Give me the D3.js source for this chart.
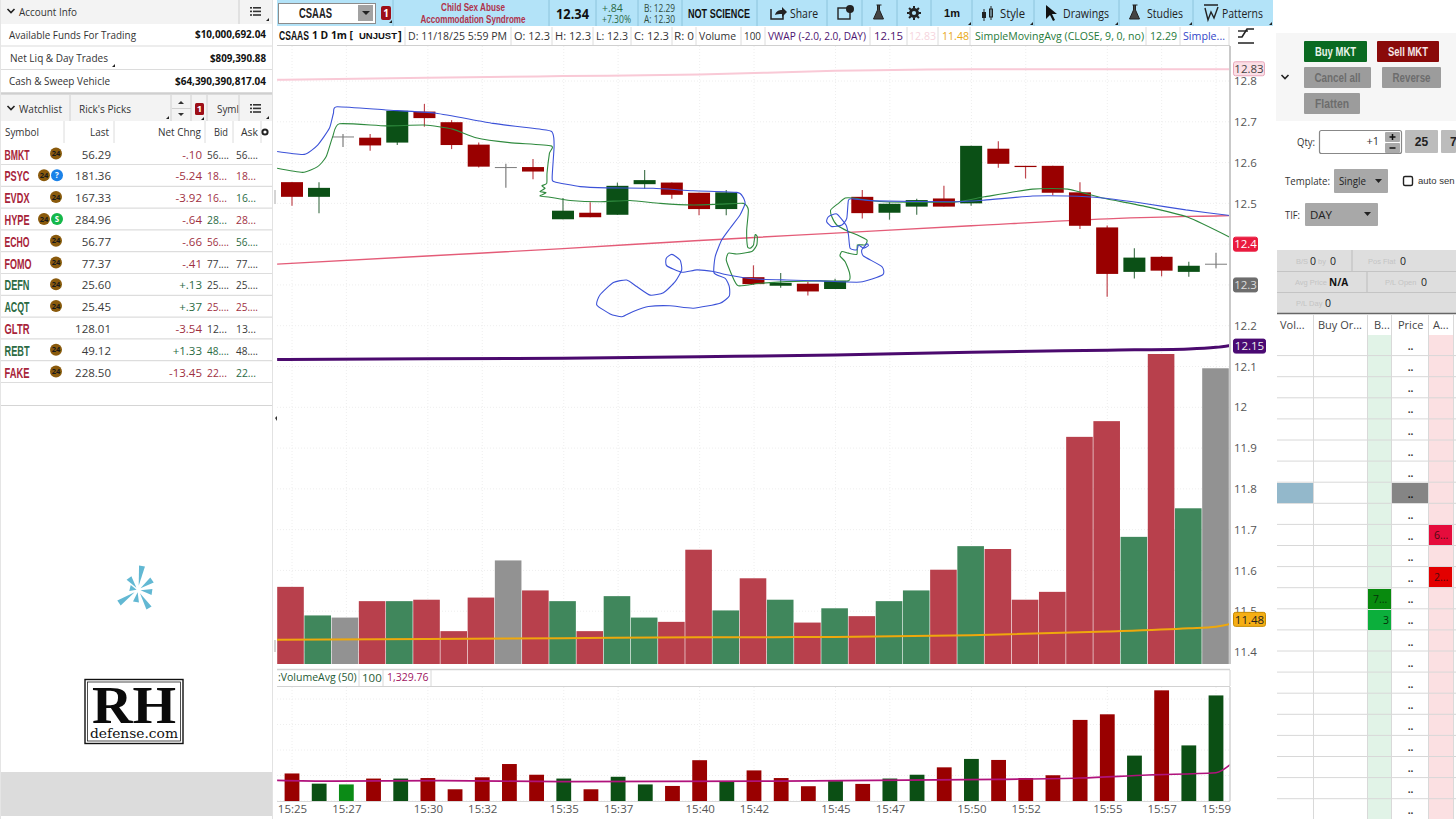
<!DOCTYPE html>
<html><head><meta charset="utf-8">
<script src="https://cdn.jsdelivr.net/npm/d3@7"></script>
<style>html,body{margin:0;padding:0;background:#fff;overflow:hidden}svg{display:block}text{font-family:"Open Sans",sans-serif}</style>
</head><body><svg id="c" width="1456" height="819"></svg>
<script>
// ---------- chart data ----------
const times=["15:25","15:26","15:27","15:28","15:29","15:30","15:31","15:32","15:33","15:34","15:35","15:36","15:37","15:38","15:39","15:40","15:41","15:42","15:43","15:44","15:45","15:46","15:47","15:48","15:49","15:50","15:51","15:52","15:53","15:54","15:55","15:56","15:57","15:58","15:59"];
const timeTicks=["15:25","15:27","15:30","15:32","15:35","15:37","15:40","15:42","15:45","15:47","15:50","15:52","15:55","15:57","15:59"];
const opens =[12.552,12.516,12.664,12.661,12.649,12.725,12.699,12.644,12.589,12.589,12.461,12.477,12.472,12.547,12.551,12.526,12.486,12.319,12.298,12.303,12.290,12.516,12.477,12.492,12.512,12.500,12.634,12.592,12.592,12.527,12.441,12.332,12.369,12.332,12.352];
const closes=[12.516,12.538,12.664,12.642,12.727,12.709,12.643,12.590,12.589,12.578,12.482,12.466,12.543,12.557,12.521,12.486,12.527,12.302,12.305,12.284,12.310,12.476,12.499,12.508,12.492,12.641,12.597,12.589,12.526,12.445,12.327,12.367,12.335,12.347,12.352];
const highs =[12.552,12.552,12.670,12.670,12.727,12.744,12.704,12.649,12.597,12.609,12.513,12.503,12.551,12.582,12.551,12.526,12.533,12.348,12.329,12.308,12.315,12.533,12.503,12.511,12.543,12.641,12.652,12.592,12.592,12.552,12.446,12.390,12.371,12.357,12.379];
const lows  =[12.494,12.476,12.638,12.629,12.643,12.688,12.633,12.588,12.538,12.559,12.461,12.466,12.472,12.536,12.511,12.471,12.471,12.300,12.293,12.274,12.290,12.463,12.460,12.472,12.492,12.494,12.587,12.561,12.520,12.437,12.271,12.316,12.321,12.320,12.341];
const volumes=[108,68,65,88,88,90,46,93,145,103,88,46,95,65,59,160,75,120,90,58,78,67,88,103,132,165,161,90,101,318,340,178,434,218,414];
const overlayDir=["d","u","n","d","u","d","d","d","n","d","u","d","u","u","d","d","u","d","u","d","u","d","u","u","d","u","d","d","d","d","d","u","d","u","n"];
const lowerDir  =["d","u","b","d","u","d","d","d","d","d","u","d","u","u","d","d","u","d","d","d","u","d","u","u","d","u","d","d","d","d","d","u","d","u","u"];
const priceTicks=[12.8,12.7,12.6,12.5,12.4,12.3,12.2,12.1,12,11.9,11.8,11.7,11.6,11.5,11.4];
const priceLabels=[12.8,12.7,12.6,12.5,12.2,12.1,12,11.9,11.8,11.7,11.6,11.5,11.4];
const volumeTicks=[400,300,200,100,0];
const bandIdx=[-0.51,5,10,15,20,25,30,33,34,34.54];
const upperBand=[12.803,12.808,12.812,12.816,12.825,12.829,12.829,12.829,12.829,12.829];
const lowerBand=[12.351,12.371,12.389,12.409,12.427,12.445,12.462,12.468,12.469,12.470];
const vwap=[12.117,12.119,12.120,12.124,12.128,12.135,12.140,12.143,12.147,12.152];
const orangeLine=[11.430,11.432,11.434,11.436,11.437,11.441,11.450,11.458,11.462,11.469];
const volAvgIdx=[-0.51,1.5,5.5,10,18,26,29,31.5,34,34.54];
const volAvg=[81,78,80,76,78,85,90,102,111,144];
const blueT=[-.51,.49,.98,1.41,1.56,1.69,3.49,5.33,7.42,9.38,9.62,9.67,9.60,9.68,10.63,11.61,13.31,14.78,16.39,16.61,16.69,16.51,16.14,15.83,15.59,15.55,15.96,16.11,16.11,15.77,14.79,13.93,13.14,12.58,12.16,11.73,11.24,11.36,11.85,12.34,12.71,13.20,13.69,14.12,14.36,14.30,14.00,13.79,13.81,14.36,14.92,15.53,16.02,16.99,18.22,19.45,20.92,21.75,21.72,21.04,20.98,21.17,21.22,21.04,20.86,20.80,20.55,20.49,20.40,20.06,19.75,19.69,19.88,20.25,20.43,20.49,20.67,21.47,24.36,25.49,27.26,28.55,29.83,31.43,32.89,34.54];
const blueP=[12.627,12.620,12.643,12.684,12.721,12.737,12.729,12.721,12.696,12.680,12.672,12.639,12.565,12.553,12.541,12.538,12.537,12.531,12.527,12.516,12.500,12.472,12.439,12.410,12.369,12.329,12.316,12.296,12.273,12.255,12.243,12.249,12.247,12.235,12.222,12.229,12.251,12.276,12.306,12.312,12.296,12.275,12.281,12.308,12.337,12.361,12.375,12.365,12.347,12.331,12.337,12.333,12.325,12.315,12.312,12.310,12.307,12.325,12.345,12.371,12.386,12.401,12.396,12.390,12.398,12.386,12.390,12.423,12.447,12.474,12.467,12.455,12.443,12.447,12.464,12.508,12.511,12.506,12.504,12.508,12.518,12.518,12.513,12.499,12.484,12.470];
const greenT=[-.51,.43,.98,1.29,1.53,1.78,3.49,4.90,5.94,6.80,8.03,9.56,9.50,9.41,9.40,9.22,9.34,9.15,9.38,9.15,9.52,10.26,11.36,12.46,13.57,14.79,15.77,16.63,16.81,16.75,16.78,16.88,17.00,17.06,17.14,17.12,16.94,16.39,16.08,16.0,16.20,16.44,17.24,18.22,19.45,20.49,20.53,20.37,20.18,20.25,20.49,20.80,20.82,21.10,21.17,20.80,20.49,20.06,19.88,19.84,20.12,20.37,20.67,21.79,24.36,25.49,27.26,28.55,29.83,31.43,32.97,34.54];
const greenP=[12.586,12.576,12.590,12.614,12.663,12.695,12.690,12.692,12.682,12.661,12.649,12.641,12.623,12.574,12.549,12.543,12.537,12.529,12.526,12.518,12.515,12.507,12.504,12.507,12.500,12.496,12.498,12.500,12.484,12.435,12.394,12.390,12.398,12.423,12.418,12.398,12.382,12.376,12.378,12.361,12.325,12.298,12.304,12.308,12.310,12.310,12.329,12.357,12.371,12.382,12.378,12.375,12.398,12.398,12.410,12.423,12.431,12.447,12.467,12.484,12.500,12.513,12.513,12.504,12.503,12.516,12.535,12.535,12.513,12.492,12.466,12.416];
// ---------- watchlist data ----------
const wlSymbols=["BMKT","PSYC","EVDX","HYPE","ECHO","FOMO","DEFN","ACQT","GLTR","REBT","FAKE"];
const wlLast=["56.29","181.36","167.33","284.96","56.77","77.37","25.60","25.45","128.01","49.12","228.50"];
const wlChange=["-.10","-5.24","-3.92","-.64","-.66","-.41","+.13","+.37","-3.54","+1.33","-13.45"];
const wlBid=["56....","18...","16...","28...","56....","77....","25....","25....","12...","48....","22..."];
const wlAsk=["56....","18...","16...","28...","56....","77....","25....","25....","13...","48....","22..."];
const wlBidTone=["k","r","r","g","r","k","k","r","k","g","r"];
const wlAskTone=["k","r","g","r","g","k","k","r","k","k","g"];
const wlBadge=["24","24+i","24","24+s","24","24","24","24","","24","24"];
const accountLabels=["Available Funds For Trading","Net Liq & Day Trades","Cash & Sweep Vehicle"];
const accountValues=["$10,000,692.04","$809,390.88","$64,390,390,817.04"];

// ---------- helpers ----------
const svg=d3.select("#c");
const NARROW='"Liberation Sans",sans-serif';
function T(g,x,y,s,o={}){
  const e=g.append("text").attr("x",x).attr("y",y).attr("dy",".36em").text(s)
   .attr("font-size",o.size||11).attr("fill",o.fill||"#333").attr("text-anchor",o.anchor||"start");
  if(o.weight)e.attr("font-weight",o.weight);
  if(o.font)e.style("font-family",o.font);
  if(o.len)e.attr("textLength",o.len).attr("lengthAdjust","spacingAndGlyphs");
  return e;
}
function R(g,x,y,w,h,f,o={}){
  const e=g.append("rect").attr("x",x).attr("y",y).attr("width",w).attr("height",h).attr("fill",f);
  if(o.stroke)e.attr("stroke",o.stroke).attr("stroke-width",o.sw||1);
  if(o.r)e.attr("rx",o.r);
  return e;
}
function L(g,x1,y1,x2,y2,c,w){return g.append("line").attr("x1",x1).attr("y1",y1).attr("x2",x2).attr("y2",y2).attr("stroke",c).attr("stroke-width",w||1);}
function P(g,d,f,s,w){const e=g.append("path").attr("d",d).attr("fill",f||"none");if(s)e.attr("stroke",s).attr("stroke-width",w||1);return e;}
function listIcon(g,x,y){for(let i=0;i<3;i++){R(g,x-5,y-4+i*3.6,2,1.6,"#333");R(g,x-2,y-4+i*3.6,8,1.6,"#333");}}
function chevron(g,x,y){P(g,`M${x-3.5} ${y-2}L${x} ${y+1.5}L${x+3.5} ${y-2}`,"none","#222",1.6);}
function corner(g,x,y){P(g,`M${x} ${y}L${x} ${y-3}L${x-3} ${y}Z`,"#222");}

// ---------- scales ----------
const xIdx=d3.scaleLinear().domain([0,34]).range([291,1216]);
const xCandle=d3.scaleLinear().domain([0,1,2,9,10,34]).range([292,319,343,533,563,1216]);
const xVol=d3.scalePoint().domain(times).range([290.5,1215.5]);
const xLow=d3.scalePoint().domain(times).range([292,1216]);
const yPrice=d3.scaleLinear().domain([12.8,11.4]).range([81,652]);
const yOver=d3.scaleLinear().domain([0,434]).range([664,354]);
const yLow=d3.scaleLinear().domain([0,400]).range([801,699]);

const defs=svg.append("defs");
defs.append("clipPath").attr("id","cm").append("rect").attr("x",277).attr("y",46).attr("width",953).attr("height",619);
defs.append("clipPath").attr("id","cl").append("rect").attr("x",277).attr("y",687).attr("width",953).attr("height",115);
defs.append("clipPath").attr("id","ca").append("rect").attr("x",1230).attr("y",687).attr("width",40).attr("height",115);

// ---------- main chart ----------
const main=svg.append("g").attr("clip-path","url(#cm)");
const gridC="#eeeeee";
priceTicks.forEach(p=>main.append("line").attr("x1",277).attr("x2",1230).attr("y1",yPrice(p)).attr("y2",yPrice(p)).attr("stroke",gridC).attr("stroke-dasharray","1 2"));
timeTicks.forEach(t=>main.append("line").attr("x1",xLow(t)).attr("x2",xLow(t)).attr("y1",46).attr("y2",664).attr("stroke",gridC).attr("stroke-dasharray","1 2"));
const overCol={d:"#b8404c",u:"#40875c",n:"#929292"};
main.selectAll("rect.ov").data(times).join("rect").attr("class","ov")
 .attr("x",d=>xVol(d)-13.3).attr("width",26.6)
 .attr("y",(d,i)=>yOver(volumes[i])).attr("height",(d,i)=>664-yOver(volumes[i]))
 .attr("fill",(d,i)=>overCol[overlayDir[i]]);
const bandLine=arr=>d3.line().x((d,i)=>xIdx(bandIdx[i])).y(d=>yPrice(d)).curve(d3.curveMonotoneX)(arr);
P(main,bandLine(orangeLine),"none","#efa80c",2);
P(main,bandLine(vwap),"none","#4b0a6e",3);
P(main,bandLine(upperBand),"none","#f9c9d6",2);
P(main,bandLine(lowerBand),"none","#e45c78",1.4);
const candleCol=i=>closes[i]>opens[i]?"#0b5016":closes[i]<opens[i]?"#990000":"#7d7d7d";
const cg=main.append("g");
cg.selectAll("line.w").data(times).join("line").attr("class","w")
 .attr("x1",(d,i)=>xCandle(i)).attr("x2",(d,i)=>xCandle(i))
 .attr("y1",(d,i)=>yPrice(highs[i])).attr("y2",(d,i)=>yPrice(lows[i]))
 .attr("stroke",(d,i)=>closes[i]===opens[i]?"#7d7d7d":(closes[i]>opens[i]?"#4c7a55":"#c04850")).attr("stroke-width",1.2);
cg.selectAll("rect.b").data(times).join("rect").attr("class","b")
 .attr("x",(d,i)=>xCandle(i)-11).attr("width",22)
 .attr("y",(d,i)=>yPrice(Math.max(opens[i],closes[i])))
 .attr("height",(d,i)=>Math.max(1,yPrice(Math.min(opens[i],closes[i]))-yPrice(Math.max(opens[i],closes[i]))))
 .attr("fill",(d,i)=>candleCol(i));
const traceLine=(T_,P_)=>d3.line().x((d,i)=>xIdx(T_[i])).y((d,i)=>yPrice(P_[i])).curve(d3.curveCardinal.tension(0.45))(T_);
P(main,traceLine(greenT,greenP),"none","#2f8a3e",1.1);
P(main,traceLine(blueT,blueP),"none","#3c52d8",1.1);

// price axis
L(svg,1230,46,1230,664,"#c9c9c9",2);
const pa=svg.append("g").attr("transform","translate(1230,0)").call(d3.axisRight(yPrice).tickValues(priceLabels).tickSize(0).tickPadding(4).tickFormat(d=>String(d)));
pa.select(".domain").remove();
pa.selectAll("text").attr("font-size",11.5).attr("fill","#555").style("font-family",'"Open Sans",sans-serif');

// price tags
[[12.83,"12.83","#fbdfe6","#e9a9bb","#444",31],[12.4,"12.4","#ea1b3f","#ea1b3f","#fff",24],[12.3,"12.3","#6d6d6d","#6d6d6d","#ddd",24],[12.15,"12.15","#4a0a73","#4a0a73","#eee",32],[11.48,"11.48","#f5ae14","#c78a00","#222",32]].forEach(a=>{
  const y=yPrice(a[0]);
  R(svg,1233.5,y-7,a[5],14,a[2],{stroke:a[3],r:2});
  T(svg,1233.5+a[5]/2,y,a[1],{size:11.5,anchor:"middle",fill:a[4]});
});

// ---------- lower volume panel ----------
R(svg,277,665,953,5,"#fff");
L(svg,277,669.5,1230,669.5,"#d2d2d2",1.5);
L(svg,277,686.5,1230,686.5,"#d2d2d2",1);
L(svg,1230,670,1230,686,"#d2d2d2",1);
T(svg,278,677.5,":VolumeAvg (50)",{size:10.5,fill:"#1f5a34"});
L(svg,359,670,359,686,"#d8d8d8");
T(svg,362,677.5,"100",{size:11.5,fill:"#1f5a34"});
L(svg,383,670,383,686,"#d8d8d8");
T(svg,387,677.5,"1,329.76",{size:10.5,fill:"#a0145f"});
L(svg,431,670,431,686,"#d8d8d8");
const low=svg.append("g").attr("clip-path","url(#cl)");
volumeTicks.forEach(v=>low.append("line").attr("x1",277).attr("x2",1230).attr("y1",yLow(v)).attr("y2",yLow(v)).attr("stroke",gridC).attr("stroke-dasharray","1 2"));
timeTicks.forEach(t=>low.append("line").attr("x1",xLow(t)).attr("x2",xLow(t)).attr("y1",687).attr("y2",801).attr("stroke",gridC).attr("stroke-dasharray","1 2"));
const lowCol={d:"#990000",u:"#0b4f14",b:"#0b8b16"};
low.selectAll("rect.lv").data(times).join("rect").attr("class","lv")
 .attr("x",d=>xLow(d)-7.4).attr("width",14.8)
 .attr("y",(d,i)=>yLow(volumes[i])).attr("height",(d,i)=>801-yLow(volumes[i]))
 .attr("fill",(d,i)=>lowCol[lowerDir[i]]);
P(low,d3.line().x((d,i)=>xIdx(volAvgIdx[i])).y(d=>yLow(d)).curve(d3.curveMonotoneX)(volAvg),"none","#b0127c",1.6);
L(svg,277,801.5,1230,801.5,"#d8d8d8",1);
L(svg,1230,687,1230,801,"#d2d2d2",1.5);
const la=svg.append("g").attr("transform","translate(1230,0)").attr("clip-path","url(#ca)");
la.append("g").call(d3.axisRight(yLow).tickValues(volumeTicks).tickSize(0).tickPadding(4));
la.select(".domain").remove();
la.selectAll("text").attr("font-size",11.5).attr("fill","#555").style("font-family",'"Open Sans",sans-serif');
const xa=svg.append("g").attr("transform","translate(0,804.5)").call(d3.axisBottom(xLow).tickValues(timeTicks).tickSize(0).tickPadding(0));
xa.select(".domain").remove();
xa.selectAll("text").attr("font-size",11.5).attr("fill","#555").attr("dy","0.72em").style("font-family",'"Open Sans",sans-serif');

// ---------- toolbar ----------
const tb=svg.append("g");
R(tb,277,0,996,26,"#b3e3f8");
R(tb,278.5,3.5,97,20,"#fff",{stroke:"#8c8c8c",sw:1});
T(tb,315.5,13,"CSAAS",{size:14.5,weight:"bold",anchor:"middle",fill:"#222",font:NARROW,len:33});
R(tb,358,5,15,16,"#a2a2a2");P(tb,"M362 11h8l-4 4z","#222");
R(tb,381,6,10,14,"#9d0e17",{r:2});T(tb,386,13,"1",{size:10,anchor:"middle",fill:"#fff",weight:"bold"});corner(tb,392,23);
[393,549,596,638,682,757,827,862,897,931,972,1034,1119,1193].forEach(x=>L(tb,x,0,x,26,"#8cc4dc"));
T(tb,473,7.5,"Child Sex Abuse",{size:10.5,anchor:"middle",fill:"#b0324b",weight:"bold",font:NARROW,len:64});
T(tb,473,19.5,"Accommodation Syndrome",{size:10.5,anchor:"middle",fill:"#b0324b",weight:"bold",font:NARROW,len:105});
T(tb,572.5,13.5,"12.34",{size:15,anchor:"middle",weight:"bold",fill:"#111",len:33});
T(tb,602,8,"+.84",{size:10.5,fill:"#2a6a45"});
T(tb,602,19,"+7.30%",{size:10.5,fill:"#2a6a45",len:29});
T(tb,644,8,"B: 12.29",{size:10.5,fill:"#2f4a3a",len:31});
T(tb,644,19,"A: 12.30",{size:10.5,fill:"#2f4a3a",len:31});
T(tb,688,13,"NOT SCIENCE",{size:12.5,weight:"bold",fill:"#111",font:NARROW,len:62});
P(tb,"M771 9v10h12v-4","none","#222",1.5);P(tb,"M775 15c1-4 4-5 7-5V7l5 5-5 5v-3c-3 0-5 0-7 1z","#222");
T(tb,790,13.5,"Share",{size:12,fill:"#222",len:28});
R(tb,838,8,12,11,"none",{stroke:"#222",sw:1.4});tb.append("circle").attr("cx",850).attr("cy",9).attr("r",4).attr("fill","#222");
P(tb,"M876.5 5h5M877.5 5v5l-4 9h10l-4-9V5","#444","#222",1);
tb.append("circle").attr("cx",914).attr("cy",13).attr("r",5).attr("fill","#222");
d3.range(8).forEach(i=>{const a=i*Math.PI/4;L(tb,914+4.5*Math.cos(a),13+4.5*Math.sin(a),914+7*Math.cos(a),13+7*Math.sin(a),"#222",2);});
tb.append("circle").attr("cx",914).attr("cy",13).attr("r",2.1).attr("fill","#b3e3f8");
T(tb,952,13.5,"1m",{size:11,anchor:"middle",fill:"#111",weight:"bold",font:NARROW});corner(tb,971,25);
L(tb,984,9,984,21,"#222",1);R(tb,982,12,4,6,"#222");L(tb,991,6,991,20,"#222",1);R(tb,989.5,9,3,8,"none",{stroke:"#222"});
T(tb,1000,13.5,"Style",{size:12,fill:"#222",len:25});corner(tb,1033,25);
P(tb,"M1046 5l11 9h-5l3 6-2 1-3-6-4 4z","#111");
T(tb,1063,13.5,"Drawings",{size:12,fill:"#222",len:46});corner(tb,1118,25);
P(tb,"M1132.5 5h5M1133.5 5v5l-4 9h10l-4-9V5","#444","#222",1);
T(tb,1147,13.5,"Studies",{size:12,fill:"#222",len:36});corner(tb,1192,25);
P(tb,"M1204 5h14M1205 8l3 12 3-8 3 6 4-11","none","#222",1.4);
T(tb,1222,13.5,"Patterns",{size:12,fill:"#222",len:41});corner(tb,1272,25);

// ---------- study header row ----------
const sh=svg.append("g");
L(sh,277,45.5,1230,45.5,"#d0d0d0");
T(sh,279,35.5,"CSAAS",{size:12,weight:"bold",fill:"#111",font:NARROW,len:30});
T(sh,312,35.5,"1 D 1m [",{size:11,weight:"bold",fill:"#111",len:41});
T(sh,359,35.5,"UNJUST",{size:9.5,weight:"bold",fill:"#111",font:NARROW});
T(sh,398,35.5,"]",{size:11.5,weight:"bold",fill:"#111"});
[[408,"D: 11/18/25 5:59 PM",99,"#333"],[514,"O: 12.3",36,"#333"],[555,"H: 12.3",36,"#333"],[596,"L: 12.3",32,"#333"],[634,"C: 12.3",35,"#333"],[674,"R: 0",20,"#333"],[699,"Volume",37,"#333"],[744,"100",17,"#333"],[768,"VWAP (-2.0, 2.0, DAY)",98,"#4d1370"],[874,"12.15",29,"#4d1370"],[909,"12.83",27,"#f6d5dd"],[942,"11.48",27,"#e8a812"],[975,"SimpleMovingAvg (CLOSE, 9, 0, no)",169,"#1f7a3a"],[1150,"12.29",27,"#1f7a3a"],[1183,"Simple...",42,"#3246c8"]].forEach(a=>T(sh,a[0],35.5,a[1],{size:11.5,fill:a[3],len:a[2]}));
[405,511,552,593,631,672,696,741,765,870,907,938,970,1146,1180,1229].forEach(x=>L(sh,x,27,x,45,"#dcdcdc"));
P(sh,"M1238 43h16M1238 37h4l5-8h7","none","#222",1.6);P(sh,"M1238 31h10","none","#222",1.4);

// ---------- left panel ----------
const lp=svg.append("g");
R(lp,0,0,272,24,"#f3f3f3");
chevron(lp,11,11);T(lp,19,11.5,"Account Info",{size:11.5,fill:"#333",len:58});
L(lp,239,0,239,24,"#cfcfcf");listIcon(lp,255,11);corner(lp,269,21);
accountLabels.forEach((s,i)=>{const y=[34.5,58,81][i];
  T(lp,i==1?10:9,y,s,{size:11.5,fill:"#333",len:[127,98,101][i]});
  T(lp,266,y,accountValues[i],{size:11,weight:"bold",anchor:"end",fill:"#111",len:[71,56,91][i]});});
corner(lp,115,67);
L(lp,1,46,272,46,"#dcdcdc",1.2);L(lp,1,69.5,272,69.5,"#dcdcdc",1.2);L(lp,1,93.5,272,93.5,"#cfcfcf",2.4);
R(lp,0,95,272,26,"#f3f3f3");
chevron(lp,11,108);T(lp,19,109,"Watchlist",{size:11.5,fill:"#333",len:43});
L(lp,70,95,70,121,"#d0d0d0");T(lp,79,109,"Rick's Picks",{size:11.5,fill:"#333",len:52});corner(lp,169,119);
L(lp,171,95,171,121,"#d0d0d0");L(lp,191,95,191,121,"#d0d0d0");L(lp,207,95,207,121,"#d0d0d0");
P(lp,"M178 104l3-3 3 3z","#333");P(lp,"M178 113l3 3 3-3z","#333");L(lp,172,108.5,191,108.5,"#d0d0d0");corner(lp,204,120);
R(lp,195,103,9,12,"#9d0e17",{r:1.5});T(lp,199.5,109,"1",{size:9.5,anchor:"middle",fill:"#fff",weight:"bold"});
T(lp,217,109,"Syml",{size:11.5,fill:"#333",len:22});L(lp,239,95,239,121,"#d0d0d0");listIcon(lp,255,108);corner(lp,269,119);
T(lp,5,132,"Symbol",{size:11.5,fill:"#333",len:34});
T(lp,109,132,"Last",{size:11.5,anchor:"end",fill:"#333",len:19});
T(lp,201,132,"Net Chng",{size:11.5,anchor:"end",fill:"#333",len:43});
T(lp,214,132,"Bid",{size:11.5,fill:"#333",len:14});T(lp,241,132,"Ask",{size:11.5,fill:"#333",len:17});
[64,114,205,233,261].forEach(x=>L(lp,x,121,x,143,"#dcdcdc"));
lp.append("circle").attr("cx",265).attr("cy",132).attr("r",2.6).attr("fill","none").attr("stroke","#222").attr("stroke-width",2);
const tone={r:"#a0303f",g:"#2b6a43",k:"#3a3a3a"};
const rowY=i=>154.5+i*21.8;
function badge24(g,x,y){g.append("circle").attr("cx",x).attr("cy",y).attr("r",6).attr("fill","#8a5a0c");T(g,x,y,"24",{size:7.5,weight:"bold",anchor:"middle",fill:"#1a1a1a"});}
wlSymbols.forEach((s,i)=>{const y=rowY(i);const ch=wlChange[i];const up=ch[0]=="+";
  T(lp,4.5,y,s,{size:14,weight:"bold",fill:up?"#2b6a43":"#a8243a",font:NARROW,len:s=="FOMO"?27:25});
  const b=wlBadge[i];
  if(b){ if(b=="24") badge24(lp,56,y-1);
    else{badge24(lp,44,y-1);
      lp.append("circle").attr("cx",57).attr("cy",y-1).attr("r",6).attr("fill",b.endsWith("i")?"#1b82e8":"#14b84a");
      T(lp,57,y-1,b.endsWith("i")?"?":"S",{size:8,weight:"bold",anchor:"middle",fill:"#fff"});}}
  T(lp,111,y,wlLast[i],{size:11.5,anchor:"end",fill:"#3a3a3a"});
  T(lp,202,y,ch,{size:11.5,anchor:"end",fill:up?"#2b6a43":"#a0303f"});
  T(lp,207,y,wlBid[i],{size:11.5,fill:tone[wlBidTone[i]],len:wlBid[i].length>5?22:20});
  T(lp,236,y,wlAsk[i],{size:11.5,fill:tone[wlAskTone[i]],len:wlAsk[i].length>5?22:20});
  L(lp,1,y+10,272,y+10,"#dddddd",1.2);
});
L(lp,1,405.5,272,405.5,"#d5d5d5",1);
L(lp,272.5,0,272.5,819,"#e2e2e2",1);L(lp,0.5,0,0.5,819,"#e5e5e5",1);
P(lp,"M275 418l2-2v5z","#333");L(lp,275,190,275,204,"#aaa",1);L(lp,275,640,275,652,"#aaa",1);
// spinner
const spokes=[[142,566],[152,580],[152,592],[149,608],[136,602],[119,603],[130,588],[129,578]];
spokes.forEach(p=>{const cx=138,cy=590,dx=p[0]-cx,dy=p[1]-cy,l=Math.hypot(dx,dy),nx=-dy/l,ny=dx/l,sx=cx+dx*.18,sy=cy+dy*.18;
  P(lp,`M${sx} ${sy}L${p[0]+nx*3} ${p[1]+ny*3}L${p[0]-nx*3} ${p[1]-ny*3}Z`,"#62b8d3");});
// logo
R(lp,85,679.5,98,64,"#fff",{stroke:"#111",sw:1.4});R(lp,87.5,682,93,59,"#fff",{stroke:"#222",sw:.8});
T(lp,134,704,"RH",{size:52,weight:"bold",anchor:"middle",fill:"#0a0a0a",font:'"Liberation Serif","DejaVu Serif",serif',len:84});
T(lp,134,733.5,"defense.com",{size:13,anchor:"middle",fill:"#111",font:'"DejaVu Serif","Liberation Serif",serif',len:88});
R(lp,1,772,271,44,"#dcdcdc");

// ---------- right panel ----------
const rp=svg.append("g");
R(rp,1276,33,180,88,"#f6f6f6");
R(rp,1304,41,63,21,"#0a6a22",{r:1});T(rp,1335.5,51.5,"Buy MKT",{size:12,weight:"bold",anchor:"middle",fill:"#e9f4ea",font:NARROW,len:41});
R(rp,1377,41,62,21,"#8a0a0a",{r:1});T(rp,1408,51.5,"Sell MKT",{size:12,weight:"bold",anchor:"middle",fill:"#f4e5e5",font:NARROW,len:40});
[[1304,67,67,"Cancel all",46],[1382,67,59,"Reverse",38],[1304,93,56,"Flatten",34]].forEach(a=>{R(rp,a[0],a[1],a[2],21,"#9c9c9c",{r:1});T(rp,a[0]+a[2]/2,a[1]+10.5,a[3],{size:12,weight:"bold",anchor:"middle",fill:"#6d6d6d",font:NARROW,len:a[4]});});
chevron(rp,1285,77);
T(rp,1297,142,"Qty:",{size:11.5,fill:"#333",len:18});
R(rp,1319.5,130.5,82,23,"#fff",{stroke:"#888",sw:1.2,r:2});
T(rp,1379,141.5,"+1",{size:11,anchor:"end",fill:"#333"});
R(rp,1385,132,15,10,"#aaa",{r:1});R(rp,1385,143,15,10,"#aaa",{r:1});
P(rp,"M1389.5 137h6M1392.5 134v6","none","#111",1.5);P(rp,"M1389.5 148h6","none","#111",1.5);
R(rp,1405,130,33,23,"#bcbcbc",{r:1});T(rp,1421.5,141.5,"25",{size:12,weight:"bold",anchor:"middle",fill:"#222",font:NARROW});
R(rp,1441,130,15,23,"#bcbcbc",{r:1});T(rp,1450,141.5,"7",{size:12,weight:"bold",fill:"#222",font:NARROW});
T(rp,1285,181,"Template:",{size:11.5,fill:"#333",len:45});
R(rp,1334,169,54,24,"#a8a8a8",{r:1});T(rp,1339,181,"Single",{size:11.5,fill:"#222",len:27});P(rp,"M1375 179h7l-3.5 4z","#222");
R(rp,1403.5,176.5,9,9,"#fff",{stroke:"#222",sw:1.4,r:1.5});T(rp,1418,181,"auto sen",{size:9.5,fill:"#333",font:NARROW});
T(rp,1285,215,"TIF:",{size:11.5,fill:"#333",len:15});
R(rp,1305,203,73,23,"#a8a8a8",{r:1});T(rp,1310,214.5,"DAY",{size:11.5,fill:"#222"});P(rp,"M1364 212h7l-3.5 4z","#222");
// position block
R(rp,1277,250,179,63,"#dedede");
L(rp,1277,271.5,1456,271.5,"#c4c4c4");L(rp,1277,292.5,1456,292.5,"#c4c4c4");L(rp,1277,313.5,1456,313.5,"#666",1.4);
L(rp,1352,250,1352,271,"#bcbcbc");L(rp,1367,272,1367,292,"#bcbcbc");
const pale="#c4c4c4";
[[1296,"B/S",0],[1318,"by",0],[1368,"Pos Flat",0],[1295,"Avg Price",1],[1385,"P/L Open",1],[1296,"P/L Day",2]].forEach(a=>T(rp,a[0],261+a[2]*21,a[1],{size:7.5,fill:pale,font:NARROW}));
[[1310,"0",0],[1330,"0",0],[1400,"0",0],[1421,"0",1],[1325,"0",2]].forEach(a=>T(rp,a[0],261+a[2]*21,a[1],{size:10.5,fill:"#222"}));
T(rp,1329,282,"N/A",{size:10,weight:"bold",fill:"#111"});
// ladder
const ladderTop=335, rowH=21.1;
R(rp,1368,335,23.5,484,"#e1f3e7");R(rp,1429,335,24,484,"#fbe0e2");
d3.range(23).forEach(i=>{
  const y=ladderTop+i*rowH;
  L(rp,1277,y+rowH-.5,1456,y+rowH-.5,"#d8d8d8");
  if(y<470||y>495) T(rp,1410.5,y+rowH/2+1,"..",{size:10,anchor:"middle",fill:"#333",weight:"bold"});
});
[1313.5,1367.5,1391.5,1428.5,1453.5].forEach(x=>L(rp,x,314,x,819,"#d9d9d9"));
[["Vol...",1280],["Buy Or...",1318],["B...",1374],["Price",1398],["A...",1433]].forEach(a=>T(rp,a[1],325,a[0],{size:11,fill:"#444"}));
R(rp,1277,483,36,20,"#93b8cb");
R(rp,1392,483,36,20,"#858585");T(rp,1410.5,494,"..",{size:10,anchor:"middle",fill:"#111",weight:"bold"});
R(rp,1429,525,23,20,"#e50c3c");T(rp,1434,535.5,"6...",{size:10.5,fill:"#4a0a10"});
R(rp,1429,567,23,20,"#e30000");T(rp,1434,577.5,"2...",{size:10.5,fill:"#4a0a10"});
R(rp,1368,589,23,20,"#088a0e");T(rp,1373,599.5,"7...",{size:10.5,fill:"#06320a"});
R(rp,1368,610,23,20,"#0caf3c");T(rp,1389,620.5,"3",{size:10.5,anchor:"end",fill:"#06320a"});
</script></body></html>
